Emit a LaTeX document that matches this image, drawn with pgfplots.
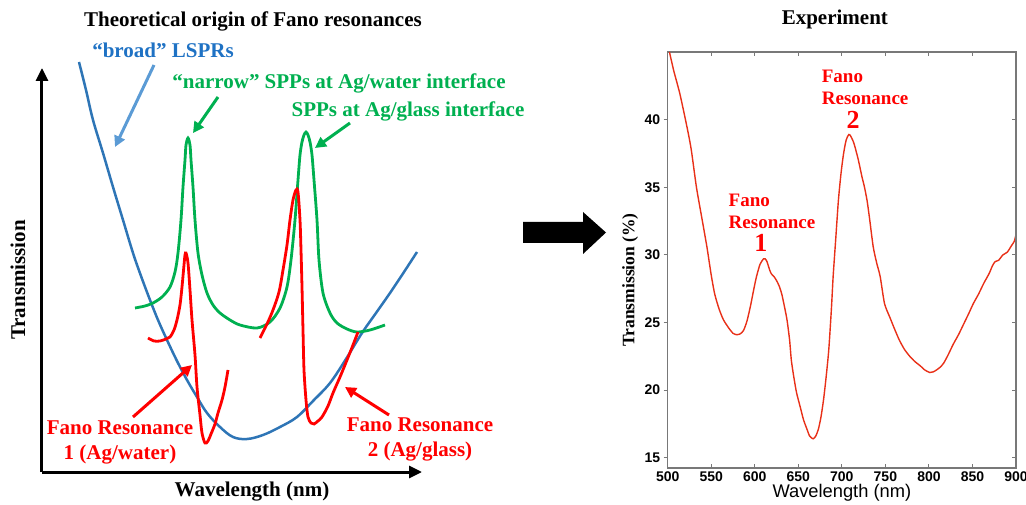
\documentclass[border=0pt]{standalone}
\usepackage{pgfplots}
\pgfplotsset{compat=1.18}
\usepackage{fontspec}
\setmainfont{Liberation Serif}
\setsansfont{Liberation Sans}
\usetikzlibrary{arrows.meta}

\definecolor{lsprblue}{HTML}{2E75B6}
\definecolor{lspr text}{HTML}{1F72C4}
\definecolor{arrowblue}{HTML}{5B9BD5}
\definecolor{sppgreen}{HTML}{00B050}
\definecolor{fanored}{HTML}{FF0000}
\definecolor{specred}{RGB}{232,48,24}
\definecolor{framegray}{RGB}{120,120,120}

\newcommand{\bigtxt}{\bfseries\fontsize{21}{25}\selectfont}

\begin{document}
\begin{tikzpicture}
\useasboundingbox (0,0) rectangle (1026pt,504pt);

% ---- left: schematic ----
\begin{axis}[
    at={(42pt,32pt)}, anchor=south west,
    x=1pt, y=1pt,
    xmin=42, xmax=422, ymin=32, ymax=436,
    axis lines=left,
    every outer x axis line/.append style={black, line width=3pt, -{Triangle[length=13pt,width=12pt]}},
    every outer y axis line/.append style={black, line width=3pt, -{Triangle[length=13pt,width=12pt]}},
    xtick=\empty, ytick=\empty,
    clip=false,
]
% broad LSPR
\addplot[lsprblue, line width=2.5pt, smooth, tension=0.6] coordinates {
(79,442) (86,414) (93,384) (103,351) (113,317) (123,284) (133,251) (141,228)
(150,204) (158,184) (167,164) (177,143) (187,124) (197,107) (207,91) (220,77)
(233,67) (247,65) (263,69) (280,77) (297,87) (313,103) (330,121) (346,145)
(362,171) (376,191) (390,211) (404,232) (417,252)
};
% narrow SPPs
\addplot[sppgreen, line width=2.8pt, smooth, tension=0.5] coordinates {
(135,196) (145,198) (153,201) (162,207) (170,217) (175,232) (178,251) (181,284)
(183,317) (185,344) (186,359) (188,366) (190,359) (191,344) (193,317) (195,284)
(198,251) (202,229) (207,211) (213,199) (220,191) (230,184) (240,179) (257,176)
(270,182) (280,196) (287,217) (291,244) (295,284) (298,324) (300,349) (302,362)
(304,369) (306,372) (308,369) (310,362) (312,349) (314,324) (317,284) (319,244) (323,211) (330,191)
(337,181) (347,175) (357,172) (370,174) (385,179)
};
% Fano resonance 1
\addplot[fanored, line width=2.8pt, smooth, tension=0.5] coordinates {
(148,166) (154,163) (160,163) (166,165) (170,167) (174,174) (177,184) (180,199)
(182,217) (184,239) (185,249) (186,251) (188,241) (190,214) (192,184) (195,149)
(197,117) (200,89) (202,71) (205,61) (208,63) (211,70) (215,80) (218,91)
(222,104) (225,117) (228,134)
};
% Fano resonance 2
\addplot[fanored, line width=2.8pt, smooth, tension=0.5] coordinates {
(260,166) (267,180) (273,194) (279,212) (283,234) (287,259) (290,284) (293,304)
(296,314) (298,312) (300,284) (301,254) (302,217) (303,174) (304,134) (306,104)
(308,87) (311,81) (314,80) (318,83) (322,87) (328,98) (333,111) (340,127)
(347,144) (353,159) (358,172)
};
% pointer arrows
\draw[arrowblue, line width=3pt, -{Triangle[length=11pt,width=11pt]}] (axis cs:154,439) -- (axis cs:115,357);
\draw[sppgreen, line width=3pt, -{Triangle[length=11pt,width=11pt]}] (axis cs:218,407) -- (axis cs:193,371);
\draw[sppgreen, line width=3pt, -{Triangle[length=11pt,width=11pt]}] (axis cs:350,381) -- (axis cs:315,356);
\draw[fanored, line width=3pt, -{Triangle[length=11pt,width=11pt]}] (axis cs:133,87) -- (axis cs:192,139);
\draw[fanored, line width=3pt, -{Triangle[length=11pt,width=11pt]}] (axis cs:389,89) -- (axis cs:345,117);
% texts
\node[font=\bigtxt] at (axis cs:253,483) {Theoretical origin of Fano resonances};
\node[font=\bigtxt, text=lspr text] at (axis cs:163,454) {“broad” LSPRs};
\node[font=\bigtxt, text=sppgreen] at (axis cs:339,421) {“narrow” SPPs at Ag/water interface};
\node[font=\bigtxt, text=sppgreen] at (axis cs:408,393) {SPPs at Ag/glass interface};
\node[font=\bigtxt, text=fanored, align=center] at (axis cs:120,62) {Fano Resonance\\1 (Ag/water)};
\node[font=\bigtxt, text=fanored, align=center] at (axis cs:420,65) {Fano Resonance\\2 (Ag/glass)};
\node[font=\bigtxt, rotate=90] at (axis cs:18,224) {Transmission};
\node[font=\bigtxt] at (axis cs:252,12) {Wavelength (nm)};
\end{axis}

% ---- block arrow ----
\fill[black] (523pt,261pt) -- (583pt,261pt) -- (583pt,250pt) -- (606pt,271.5pt)
  -- (583pt,292pt) -- (583pt,282pt) -- (523pt,282pt) -- cycle;

% ---- right: experiment ----
\begin{axis}[
    at={(667.7pt,36pt)}, anchor=south west,
    scale only axis, width=348.3pt, height=416pt,
    xmin=500, xmax=900, ymin=14.24, ymax=45,
    xtick={500,550,...,900}, ytick={15,20,...,40},
    xtick align=inside, ytick align=outside, ytick pos=left,
    major tick length=4pt,
    axis line style={framegray, line width=1.1pt},
    every tick/.style={framegray, line width=1pt},
    tick label style={font=\sffamily\bfseries\fontsize{14}{16}\selectfont},
    /pgf/number format/assume math mode=true,
    xlabel={Wavelength (nm)},
    xlabel style={font=\sffamily\fontsize{18.3}{21}\selectfont, at={(axis description cs:0.5,-0.06)}, anchor=center},
    ylabel={Transmission (\%)},
    ylabel style={font=\bfseries\fontsize{17.5}{20}\selectfont, at={(axis description cs:-0.108,0.452)}, anchor=center},
    clip=false,
]
\addplot[specred, line width=1.4pt, smooth, tension=0.4] coordinates {
(502,45.0) (507,43.6) (514,41.9) (522,39.5) (527,37.8) (533,35.0) (539,32.8)
(545,30.6) (550,28.5) (554,27.1) (559,26.0) (564,25.2) (570,24.6) (575,24.2)
(579,24.1) (583,24.15) (587,24.4) (591,25.1) (595,26.2) (599,27.5) (602,28.4)
(606,29.3) (610,29.7) (612,29.7) (614,29.5) (617,28.9) (619,28.6) (622,28.4)
(625,28.1) (628,27.7) (631,27.1) (634,26.2) (637,25.2) (640,23.7) (642,22.2)
(645,20.9) (648,19.8) (652,18.8) (656,17.8) (660,17.1) (663,16.6) (667,16.4)
(670,16.6) (673,17.1) (676,18.0) (679,19.3) (682,21.0) (685,23.0) (688,26.0)
(690,28.4) (693,31.2) (696,34.0) (699,36.0) (702,37.5) (705,38.5) (708,38.9)
(710,38.8) (713,38.4) (715,38.0) (719,37.0) (723,35.8) (726,35.0) (729,34.0)
(732,32.6) (736,30.6) (740,29.4) (744,28.4) (749,26.4) (755,25.4) (760,24.6)
(766,23.7) (772,23.0) (778,22.5) (784,22.1) (790,21.8) (795,21.5) (801,21.3)
(805,21.35) (809,21.5) (813,21.7) (817,22.0) (822,22.6) (828,23.4) (834,24.1)
(840,24.9) (846,25.7) (851,26.4) (857,27.1) (863,27.9) (869,28.6) (873,29.2)
(876,29.5) (880,29.6) (885,30.0) (890,30.2) (895,30.7) (898,31.0) (900,31.5)
};
\node[font=\bfseries\fontsize{19}{22}\selectfont, text=fanored, anchor=west] at (axis cs:566,34.0) {Fano};
\node[font=\bfseries\fontsize{19}{22}\selectfont, text=fanored, anchor=west] at (axis cs:566,32.4) {Resonance};
\node[font=\bfseries\fontsize{26}{28}\selectfont, text=fanored] at (axis cs:607,30.9) {1};
\node[font=\bfseries\fontsize{19}{22}\selectfont, text=fanored, anchor=west] at (axis cs:673,43.2) {Fano};
\node[font=\bfseries\fontsize{19}{22}\selectfont, text=fanored, anchor=west] at (axis cs:673,41.6) {Resonance};
\node[font=\bfseries\fontsize{26}{28}\selectfont, text=fanored] at (axis cs:713,40.0) {2};
\node[font=\bigtxt] at (axis description cs:0.48,1.079) {Experiment};
\end{axis}
% right-hand ticks pointing inwards
\begin{axis}[
    at={(667.7pt,36pt)}, anchor=south west,
    scale only axis, width=348.3pt, height=416pt,
    xmin=500, xmax=900, ymin=14.24, ymax=45,
    axis x line=none, axis y line*=right,
    ytick={15,20,...,40}, yticklabels={},
    ytick align=inside, major tick length=4pt,
    axis line style={framegray, line width=1.1pt},
    every tick/.style={framegray, line width=1pt},
]
\end{axis}
\end{tikzpicture}
\end{document}
